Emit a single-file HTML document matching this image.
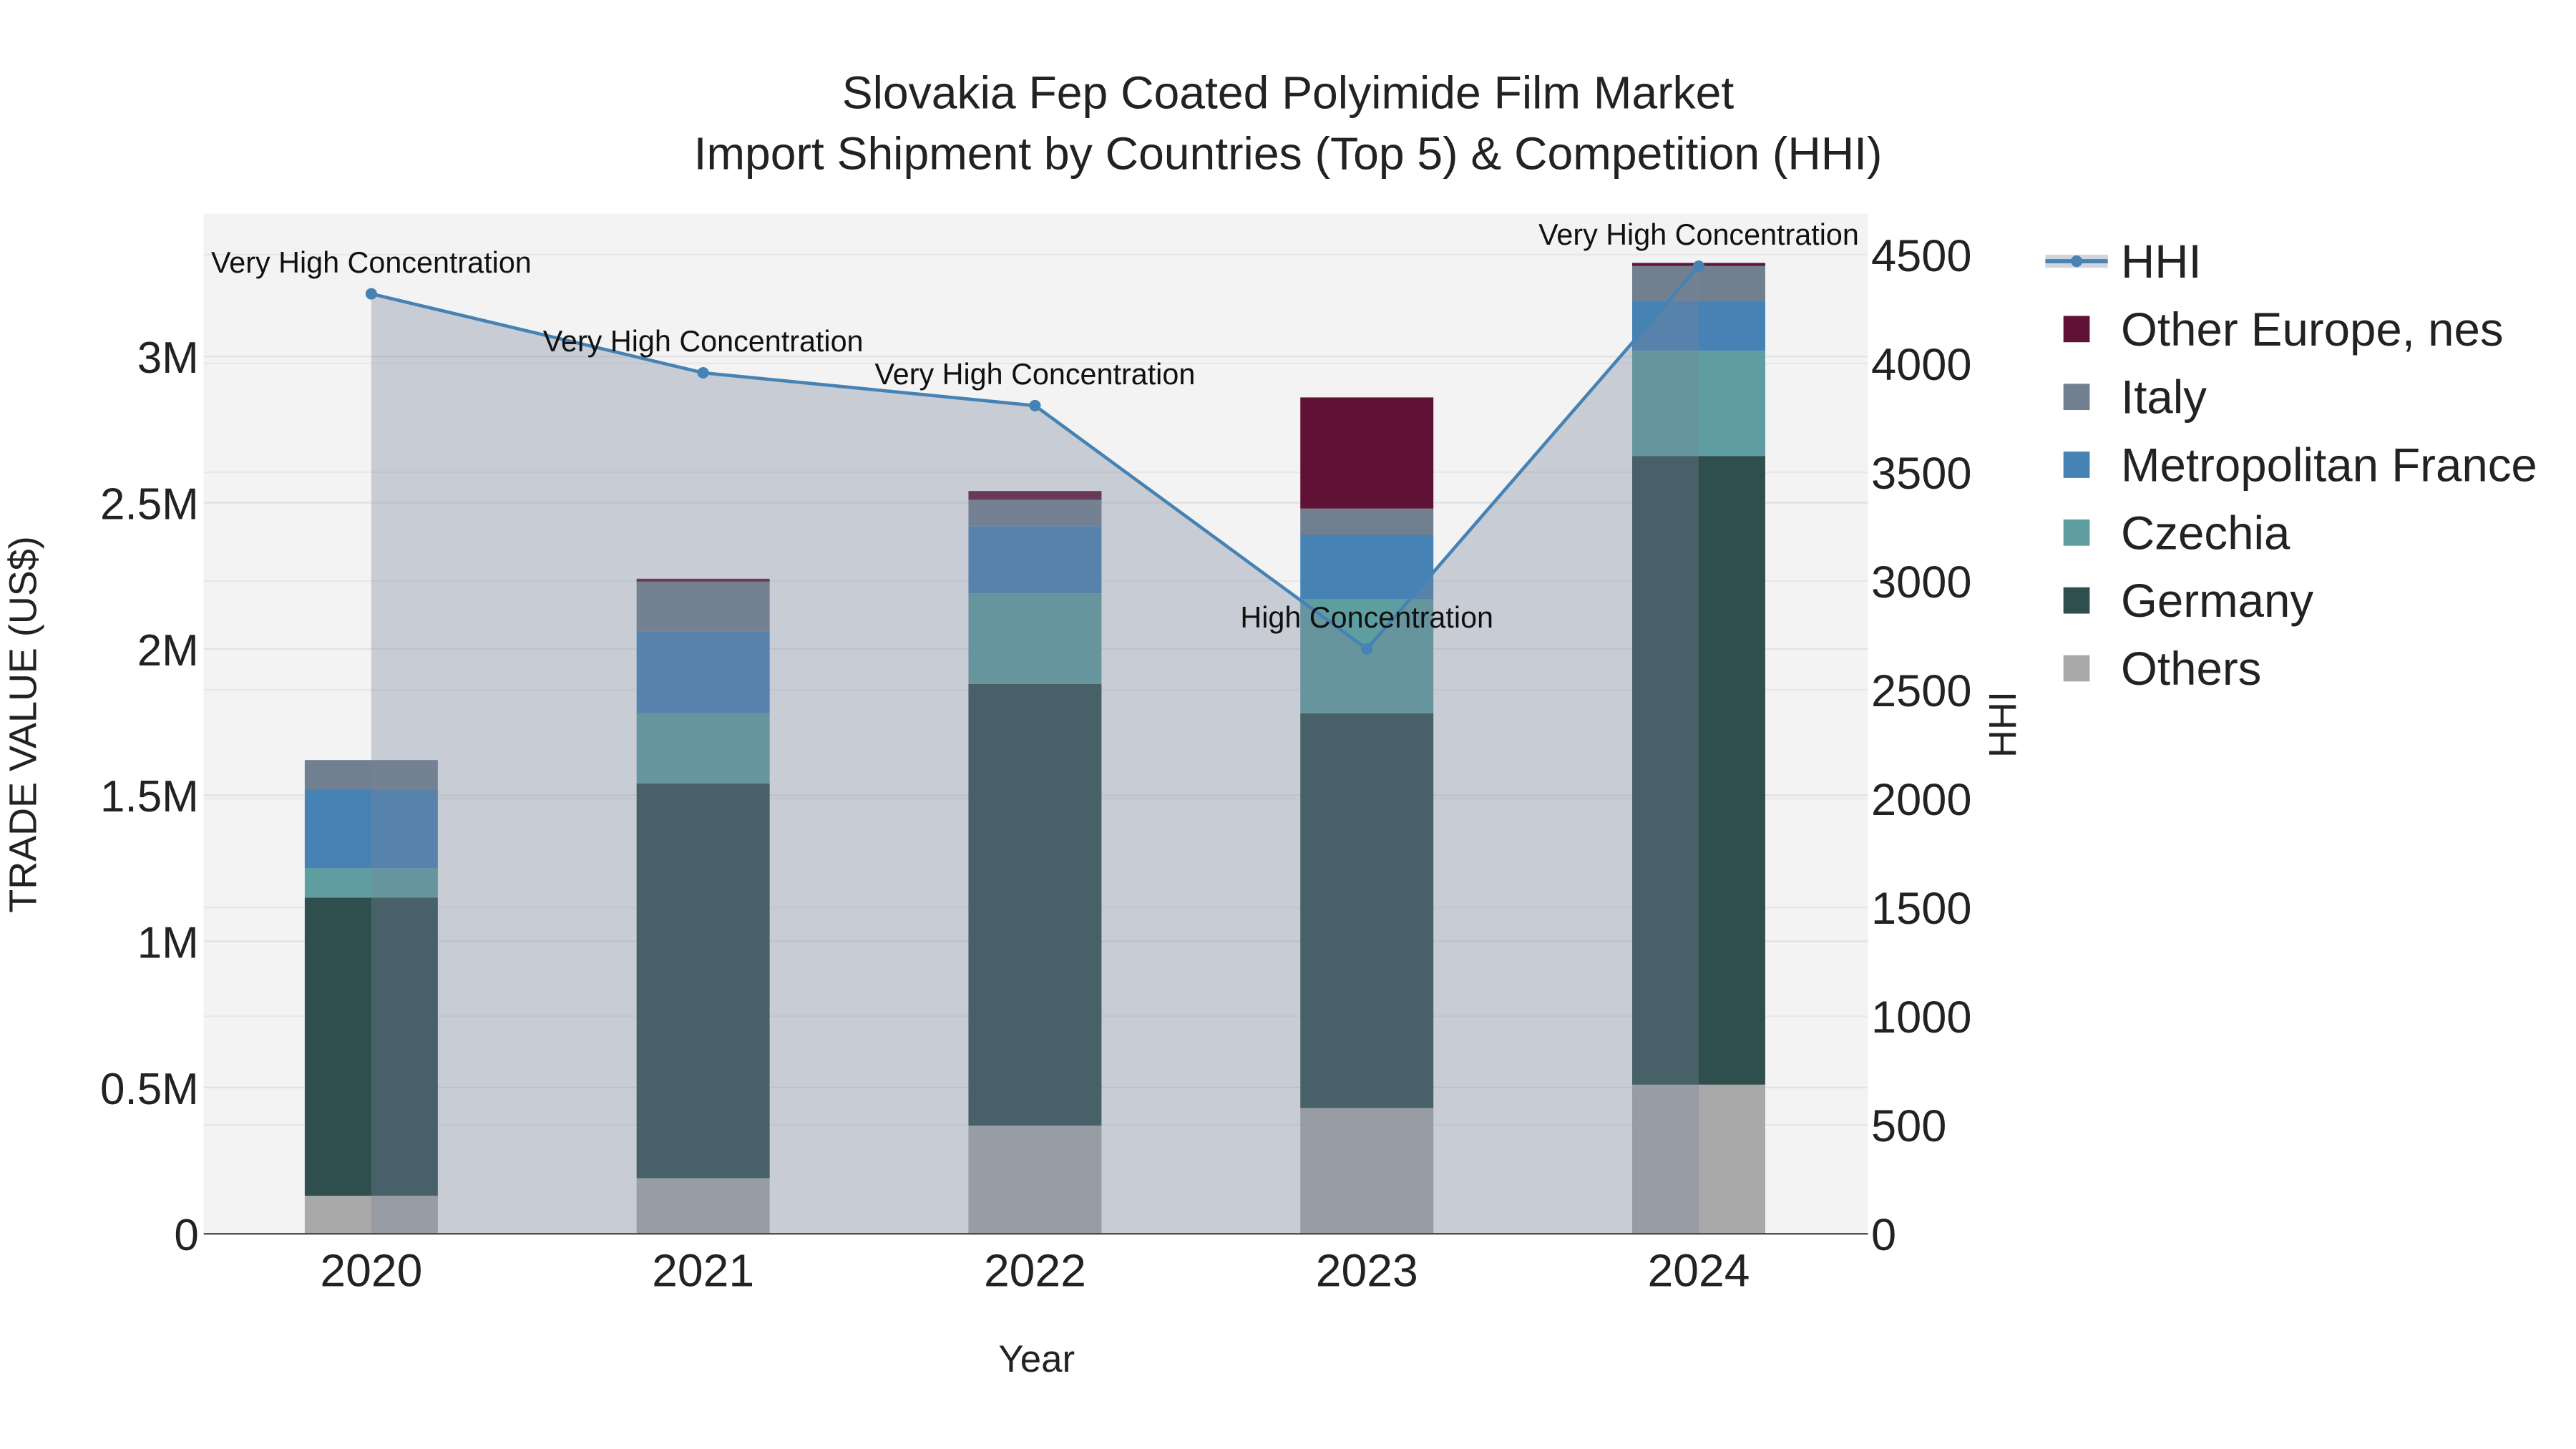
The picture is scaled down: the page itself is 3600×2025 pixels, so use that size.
<!DOCTYPE html>
<html><head><meta charset="utf-8"><style>html,body{margin:0;padding:0;background:#fff}svg{display:block}text{font-family:"Liberation Sans",sans-serif}</style></head>
<body>
<svg id="chart" width="3600" height="2025" viewBox="0 0 1568 882" xmlns="http://www.w3.org/2000/svg">
<rect x="0" y="0" width="1568" height="882" fill="#fff"/>
<rect x="124" y="130" width="1013" height="621" fill="#f3f3f3"/>
<g id="grid"></g><g id="bars"></g><g id="area"></g><g id="axes"></g><g id="legend"></g>
<text x="784" y="66" font-size="28" text-anchor="middle" fill="#222">Slovakia Fep Coated Polyimide Film Market</text>
<text x="784" y="103" font-size="28" text-anchor="middle" fill="#222">Import Shipment by Countries (Top 5) &amp; Competition (HHI)</text>
<text x="631" y="835" font-size="23" text-anchor="middle" fill="#222">Year</text>
<text transform="translate(22,441) rotate(-90)" font-size="23.5" text-anchor="middle" fill="#222">TRADE VALUE (US$)</text>
<text transform="translate(1227,441) rotate(-90)" font-size="23.5" text-anchor="middle" fill="#222">HHI</text>
</svg>
<script>
const years=["2020","2021","2022","2023","2024"];
const others=[0.13,0.19,0.37,0.43,0.51];
const germany=[1.02,1.35,1.51,1.35,2.15];
const czechia=[0.10,0.24,0.31,0.39,0.36];
const france=[0.27,0.28,0.23,0.22,0.17];
const italy=[0.10,0.17,0.09,0.09,0.12];
const otherEurope=[0,0.01,0.03,0.38,0.01];
const hhi=[4320,3957,3806,2688,4447];
const hhiLabels=["Very High Concentration","Very High Concentration","Very High Concentration","High Concentration","Very High Concentration"];
const yTicks=[0,0.5,1,1.5,2,2.5,3];
const yTickLabels=["0","0.5M","1M","1.5M","2M","2.5M","3M"];
const y2Ticks=[0,500,1000,1500,2000,2500,3000,3500,4000,4500];
const NS="http://www.w3.org/2000/svg";
const xS=i=>226+202*i;
const yS=v=>751-v*178;
const y2S=v=>751-v*596/4500;
function mk(p,t,a){const e=document.createElementNS(NS,t);for(const k in a)e.setAttribute(k,a[k]);p.appendChild(e);return e;}
const grid=document.getElementById('grid'),bars=document.getElementById('bars'),area=document.getElementById('area'),axes=document.getElementById('axes'),leg=document.getElementById('legend');
yTicks.forEach((v,i)=>{
 const l=mk(grid,'line',{x1:124,x2:1137,y1:yS(v),y2:yS(v),stroke:'#e2e2e2','stroke-width':1});
 
 
 const t=mk(axes,'text',{x:121,y:yS(v)+10,'font-size':27,'text-anchor':'end',fill:'#222'});t.textContent=yTickLabels[i];
 
 
});
y2Ticks.forEach(v=>{
 const l=mk(grid,'line',{x1:124,x2:1137,y1:y2S(v),y2:y2S(v),stroke:'#e8e8e8','stroke-width':1});
 
 
 const t=mk(axes,'text',{x:1139,y:y2S(v)+10,'font-size':27.5,fill:'#222'});t.textContent=v;
 
 
});
const series=[["Others",others,"#a9a9a9"],["Germany",germany,"#2f4f4f"],["Czechia",czechia,"#5f9ea0"],["Metropolitan France",france,"#4682b4"],["Italy",italy,"#708090"],["Other Europe, nes",otherEurope,"#601236"]];
years.forEach((y,i)=>{
 let base=0;
 series.forEach(s=>{
  const v=s[1][i];
  const r=mk(bars,'rect',{x:xS(i)-40.5,width:81,y:yS(base+v),height:yS(base)-yS(base+v),fill:s[2]});
  
  
  base+=v;
 });
 const t=mk(axes,'text',{x:xS(i),y:783,'font-size':28,'text-anchor':'middle',fill:'#222'});t.textContent=y;
 
 
});
let d='M'+xS(0)+','+yS(0);hhi.forEach((v,i)=>d+=' L'+xS(i)+','+y2S(v));d+=' L'+xS(hhi.length-1)+','+yS(0)+'Z';
const ar=mk(area,'path',{d:d,fill:'rgba(119,131,154,0.35)'});


const pl=mk(area,'polyline',{points:hhi.map((v,i)=>xS(i)+','+y2S(v)).join(' '),fill:'none',stroke:'#4682b4','stroke-width':2});


hhi.forEach((v,i)=>{
 const c=mk(area,'circle',{cx:xS(i),cy:y2S(v),r:3.5,fill:'#4682b4'});
 
 
 const t=mk(area,'text',{x:xS(i),y:y2S(v)-13,'font-size':18,'text-anchor':'middle',fill:'#111'});t.textContent=hhiLabels[i];
 
 
});
const ax=mk(axes,'line',{x1:124,x2:1137,y1:751,y2:751,stroke:'#444','stroke-width':1});


const legItems=[["HHI","line"],["Other Europe, nes","#601236"],["Italy","#708090"],["Metropolitan France","#4682b4"],["Czechia","#5f9ea0"],["Germany","#2f4f4f"],["Others","#a9a9a9"]];
legItems.forEach((it,i)=>{
 const y=159+41.3*i;
 const g=mk(leg,'g',{});
 
 
 if(it[1]==='line'){mk(g,'rect',{x:1245,y:y-4,width:38,height:8,fill:'rgba(119,131,154,0.35)'});mk(g,'line',{x1:1245,x2:1283,y1:y,y2:y,stroke:'#4682b4','stroke-width':2.5});mk(g,'circle',{cx:1264,cy:y,r:3.5,fill:'#4682b4'});}
 else mk(g,'rect',{x:1256,y:y-8,width:16,height:16,fill:it[1]});
 const t=mk(g,'text',{x:1291,y:y+10,'font-size':28.5,fill:'#222'});t.textContent=it[0];
});
</script>
</body></html>
